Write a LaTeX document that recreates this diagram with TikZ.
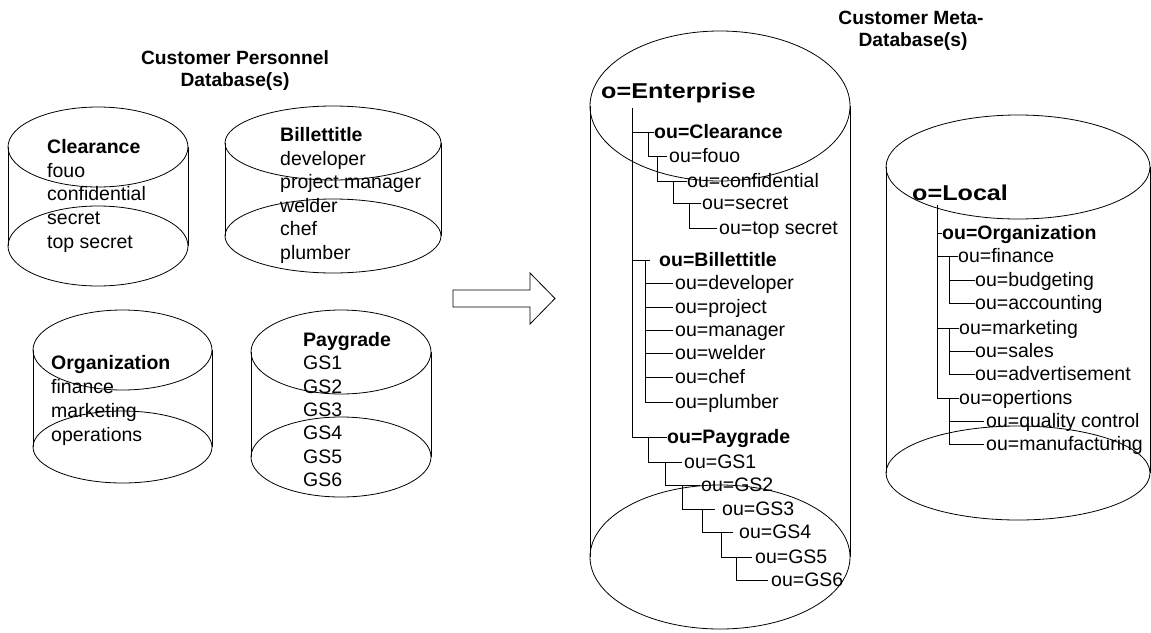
\documentclass[tikz,border=0pt]{standalone}
\usepackage{fontspec}
\usepackage{graphicx}
\setmainfont{Liberation Sans}
\usetikzlibrary{calc}
\tikzset{
  lbl/.style={anchor=west, inner sep=0pt, text height=13pt, text depth=0pt, font=\fontsize{19.5}{23.5}\selectfont},
  hd/.style={lbl, font=\fontsize{19.5}{23.5}\selectfont\bfseries},
  ttl/.style={anchor=center, inner sep=0pt, text height=13pt, text depth=0pt, font=\fontsize{19.2}{23}\selectfont\bfseries},
  big/.style={anchor=base west, inner sep=0pt, font=\fontsize{21.5}{26}\selectfont\bfseries},
  edge/.style={line width=1pt},
  cyl/.style={line width=0.8pt},
}
\begin{document}
\begin{tikzpicture}[x=1pt, y=-1pt]
\useasboundingbox (0,0) rectangle (1151,632);

% ---------- titles
\node[ttl] (t1a) at (235,58) {Customer Personnel};
\node[ttl] (t1b) at (235,80) {Database(s)};
\node[ttl] (t2a) at (911,18) {Customer Meta-};
\node[ttl] (t2b) at (913,40) {Database(s)};

% ---------- left cylinders
\draw[cyl] (98,147) ellipse [x radius=90, y radius=40];
\draw[cyl] (98,246) ellipse [x radius=90, y radius=40];
\draw[cyl] (8,147) -- (8,246) (188,147) -- (188,246);

\draw[cyl] (333,143) ellipse [x radius=108, y radius=37];
\draw[cyl] (333,236) ellipse [x radius=108, y radius=37];
\draw[cyl] (225,143) -- (225,236) (441,143) -- (441,236);

\draw[cyl] (122.5,350) ellipse [x radius=89.5, y radius=40];
\draw[cyl] (122.5,447) ellipse [x radius=89.5, y radius=36];
\draw[cyl] (33,350) -- (33,447) (212,350) -- (212,447);

\draw[cyl] (341,352) ellipse [x radius=90, y radius=42];
\draw[cyl] (341,457) ellipse [x radius=90, y radius=40];
\draw[cyl] (251,352) -- (251,457) (431,352) -- (431,457);

\node[hd] (c1h) at (47,147) {Clearance};
\foreach \t [count=\i] in {fouo, confidential, secret, top secret}
  \node[lbl] (c1-\i) at (47,147+23.7*\i) {\t};

\node[hd] (c2h) at (280,135) {Billettitle};
\foreach \t [count=\i] in {developer, project manager, welder, chef, plumber}
  \node[lbl] (c2-\i) at (280,135+23.6*\i) {\t};

\node[hd] (c3h) at (51,363) {Organization};
\foreach \t [count=\i] in {finance, marketing, operations}
  \node[lbl] (c3-\i) at (51,363+24*\i) {\t};

\node[hd] (c4h) at (303,340) {Paygrade};
\foreach \t [count=\i] in {GS1, GS2, GS3, GS4, GS5, GS6}
  \node[lbl] (c4-\i) at (303,340+23.3*\i) {\t};

% ---------- arrow
\draw[cyl] (453,290) -- (530,290) -- (530,273) -- (555,298.5) -- (530,324) -- (530,307) -- (453,307) -- cycle;

% ---------- Enterprise cylinder
\draw[cyl] (720,106) ellipse [x radius=130, y radius=75];
\draw[cyl] (720,557) ellipse [x radius=130, y radius=72];
\draw[cyl] (590,106) -- (590,557) (850,106) -- (850,557);

\node[big] (ent) at (601,98) {\scalebox{1.17}[1]{o=Enterprise}};
\node[hd]  (clr)  at (654,132) {ou=Clearance};
\node[lbl] (fouo) at (669,156) {ou=fouo};
\node[lbl] (conf) at (687,181) {ou=confidential};
\node[lbl] (secr) at (702,203) {ou=secret};
\node[lbl] (tops) at (719,228) {ou=top secret};
\node[hd]  (bil)  at (659,260) {ou=Billettitle};
\node[lbl] (dev)  at (675,283) {ou=developer};
\node[lbl] (proj) at (675,307) {ou=project};
\node[lbl] (man)  at (675,330) {ou=manager};
\node[lbl] (weld) at (675,353) {ou=welder};
\node[lbl] (chef) at (675,377) {ou=chef};
\node[lbl] (plum) at (675,402) {ou=plumber};
\node[hd]  (pay)  at (667,437) {ou=Paygrade};
\node[lbl] (gs1) at (684,462) {ou=GS1};
\node[lbl] (gs2) at (701,485) {ou=GS2};
\node[lbl] (gs3) at (722,509) {ou=GS3};
\node[lbl] (gs4) at (739,532) {ou=GS4};
\node[lbl] (gs5) at (755,557) {ou=GS5};
\node[lbl] (gs6) at (771,580) {ou=GS6};

\coordinate (T) at (632,108);
\draw[edge] (T) |- (pay.west);
\draw[edge] (T |- clr.west) -- (clr.west);
\draw[edge, shorten >=9pt] (T |- bil.west) -- (bil.west);
\draw[edge, shorten >=2pt] ([xshift=-6pt]clr.west) |- (fouo.west);
\draw[edge] ([xshift=-12pt]fouo.west) |- (conf.west);
\draw[edge, shorten >=1pt] ([xshift=-14pt]conf.west) |- (secr.west);
\draw[edge, shorten >=2pt] ([xshift=-13pt]secr.west) |- (tops.west);
\coordinate (bv) at ([xshift=-14pt]bil.west);
\draw[edge, shorten >=2pt] (bv) |- (plum.west);
\foreach \n in {dev,proj,man,weld,chef}
  \draw[edge, shorten >=2pt] (bv |- \n.west) -- (\n.west);
\draw[edge, shorten >=2pt] ([xshift=-19pt]pay.west) |- (gs1.west);
\draw[edge, shorten >=1pt] ([xshift=-19pt]gs1.west) |- (gs2.west);
\draw[edge, shorten >=7pt] ([xshift=-19pt]gs2.west) |- (gs3.west);
\draw[edge, shorten >=6pt] ([xshift=-20pt]gs3.west) |- (gs4.west);
\draw[edge, shorten >=3pt] ([xshift=-18pt]gs4.west) |- (gs5.west);
\draw[edge, shorten >=3pt] ([xshift=-19pt]gs5.west) |- (gs6.west);

% ---------- Local cylinder
\draw[cyl] (1018,167) ellipse [x radius=132, y radius=52];
\draw[cyl] (1018,473) ellipse [x radius=132, y radius=47];
\draw[cyl] (886,167) -- (886,473) (1150,167) -- (1150,473);

\node[big] (loc) at (912,200) {\scalebox{1.17}[1]{o=Local}};
\node[hd]  (org) at (942,233) {ou=Organization};
\node[lbl] (fin) at (958,256) {ou=finance};
\node[lbl] (bud) at (975,280) {ou=budgeting};
\node[lbl] (acc) at (975,303) {ou=accounting};
\node[lbl] (mkt) at (959,328) {ou=marketing};
\node[lbl] (sal) at (975,351) {ou=sales};
\node[lbl] (adv) at (975,374) {ou=advertisement};
\node[lbl] (ops) at (959,398) {ou=opertions};
\node[lbl] (qc)  at (986,421) {ou=quality control};
\node[lbl] (mfg) at (986,444) {ou=manufacturing};

\coordinate (T2) at (937,205);
\draw[edge] (T2) |- (ops.west);
\draw[edge] (T2 |- org.west) -- (org.west);
\draw[edge] (T2 |- fin.west) -- (fin.west);
\draw[edge] (T2 |- mkt.west) -- (mkt.west);
\coordinate (fv) at ([xshift=-9pt]fin.west);
\coordinate (mv) at ([xshift=-10pt]mkt.west);
\coordinate (ov) at ([xshift=-10pt]ops.west);
\draw[edge] (fv) |- (acc.west);
\draw[edge] (fv |- bud.west) -- (bud.west);
\draw[edge] (mv) |- (adv.west);
\draw[edge] (mv |- sal.west) -- (sal.west);
\draw[edge, shorten >=2pt] (ov) |- (mfg.west);
\draw[edge, shorten >=2pt] (ov |- qc.west) -- (qc.west);
\end{tikzpicture}
\end{document}
